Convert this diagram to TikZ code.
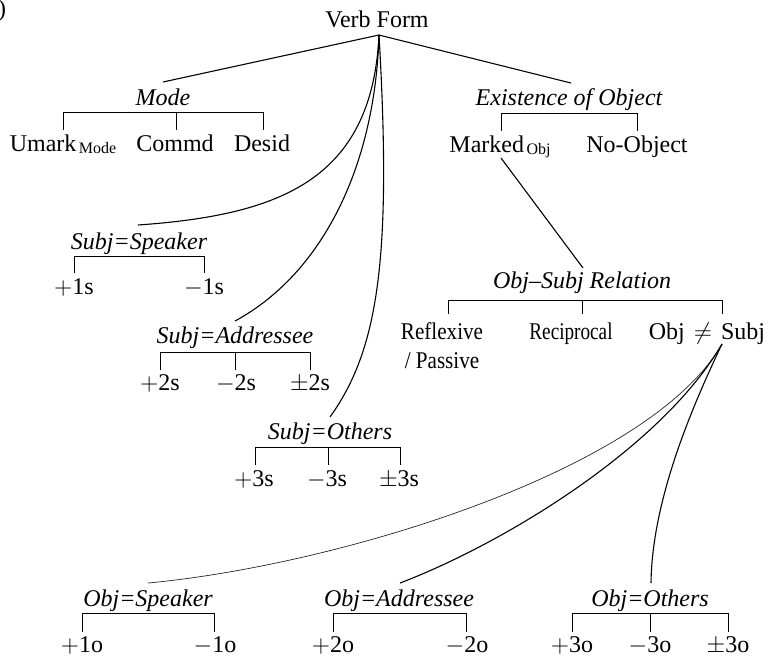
\documentclass[tikz,border=0pt]{standalone}
\usepackage{fontspec}
\setmainfont{Liberation Serif}
\newcommand\lblsize{\fontsize{12}{14.5}\selectfont}
\newcommand\subsz[1]{\hspace{1.2pt}\raisebox{-1pt}{\fontsize{8}{8}\selectfont #1}}
\begin{document}
\begin{tikzpicture}[x=0.5pt,y=-0.5pt,
  lbl/.style={inner sep=0pt, anchor=base, font=\lblsize},
  cat/.style={lbl, font=\lblsize\itshape},
  br/.style={line width=0.5pt},
  edge/.style={line width=0.55pt},
  faint/.style={line width=0.35pt, black!85}]
\useasboundingbox (0,0) rectangle (774,660);

% figure label fragment
\node[lbl, anchor=base east] (fig) at (6.5,16) {)};

% root
\node[lbl] (verb) at (377,27) {Verb Form};
\coordinate (verb-a) at (379,35);

% ---------- Mode ----------
\node[cat] (mode) at (163,105) {Mode};
\coordinate (mode-t) at (163,82);
\coordinate (mode-l) at (63,112);
\coordinate (mode-m) at (176,112);
\coordinate (mode-r) at (263,112);
\node[lbl] (umark) at (63,151) {Umark\subsz{Mode}};
\node[lbl] (commd) at (175,151) {Commd};
\node[lbl] (desid) at (262,151) {Desid};
\coordinate (umark-t) at (63,130);
\coordinate (commd-t) at (176,130);
\coordinate (desid-t) at (263,130);
\draw[edge] (verb-a) -- (mode-t);
\draw[br] (umark-t) -- (mode-l) -- (mode-r) -- (desid-t);
\draw[br] (mode-m) -- (commd-t);

% ---------- Existence of Object ----------
\node[cat] (exist) at (569,105) {Existence of Object};
\coordinate (exist-t) at (571,83);
\coordinate (exist-l) at (501,113);
\coordinate (exist-r) at (637,113);
\node[lbl] (marked) at (500,152) {Marked\subsz{Obj}};
\node[lbl] (noobj) at (637,152) {No-Object};
\coordinate (marked-t) at (501,131);
\coordinate (noobj-t) at (637,131);
\coordinate (marked-b) at (501,158);
\draw[edge] (verb-a) -- (exist-t);
\draw[br] (marked-t) -- (exist-l) -- (exist-r) -- (noobj-t);

% ---------- Subj=Speaker ----------
\node[cat] (sspk) at (139,249) {Subj=Speaker};
\coordinate (sspk-t) at (138,225);
\coordinate (sspk-l) at (74,256);
\coordinate (sspk-r) at (204,256);
\node[lbl] (p1s) at (74,294) {$+$1s};
\node[lbl] (m1s) at (204,294) {$-$1s};
\coordinate (p1s-t) at (74,273);
\coordinate (m1s-t) at (204,273);
\draw[edge] (verb-a) .. controls (372,180) and (280,215) .. (sspk-t);
\draw[br] (p1s-t) -- (sspk-l) -- (sspk-r) -- (m1s-t);

% ---------- Subj=Addressee ----------
\node[cat] (sadr) at (235,343) {Subj=Addressee};
\coordinate (sadr-t) at (235,321);
\coordinate (sadr-l) at (160,352);
\coordinate (sadr-m) at (235,352);
\coordinate (sadr-r) at (310,352);
\node[lbl] (p2s) at (160,390) {$+$2s};
\node[lbl] (m2s) at (236,390) {$-$2s};
\node[lbl] (pm2s) at (310,390) {$\pm$2s};
\coordinate (p2s-t) at (160,370);
\coordinate (m2s-t) at (235,370);
\coordinate (pm2s-t) at (310,370);
\draw[edge] (verb-a) .. controls (375,170) and (320,275) .. (sadr-t);
\draw[br] (p2s-t) -- (sadr-l) -- (sadr-r) -- (pm2s-t);
\draw[br] (sadr-m) -- (m2s-t);

% ---------- Subj=Others ----------
\node[cat] (soth) at (330,439) {Subj=Others};
\coordinate (soth-t) at (330,417);
\coordinate (soth-l) at (255,447);
\coordinate (soth-m) at (328,447);
\coordinate (soth-r) at (400,447);
\node[lbl] (p3s) at (254,486) {$+$3s};
\node[lbl] (m3s) at (327,486) {$-$3s};
\node[lbl] (pm3s) at (399,486) {$\pm$3s};
\coordinate (p3s-t) at (255,465);
\coordinate (m3s-t) at (328,465);
\coordinate (pm3s-t) at (400,465);
\draw[edge] (verb-a) .. controls (392,260) and (378,350) .. (soth-t);
\draw[br] (p3s-t) -- (soth-l) -- (soth-r) -- (pm3s-t);
\draw[br] (soth-m) -- (m3s-t);

% ---------- Obj-Subj Relation ----------
\node[cat] (rel) at (582,288) {Obj--Subj Relation};
\coordinate (rel-t) at (583,268);
\coordinate (rel-l) at (448,300);
\coordinate (rel-m) at (582,300);
\coordinate (rel-r) at (722,300);
\node[lbl, align=center] (refl) at (442,368) {\scalebox{0.88}[1]{Reflexive}\\\scalebox{0.88}[1]{/ Passive}};
\node[lbl] (recip) at (571,339) {\scalebox{0.8}[1]{Reciprocal}};
\node[lbl] (neq) at (707,339) {Obj\hspace{1.5pt} $\neq$\hspace{1.5pt} Subj};
\coordinate (refl-t) at (448,314);
\coordinate (recip-t) at (582,314);
\coordinate (neq-t) at (722,314);
\coordinate (neq-a) at (722,344);
\draw[edge] (marked-b) -- (rel-t);
\draw[br] (refl-t) -- (rel-l) -- (rel-r) -- (neq-t);
\draw[br] (rel-m) -- (recip-t);

% ---------- Obj=Speaker ----------
\node[cat] (ospk) at (148,606) {Obj=Speaker};
\coordinate (ospk-t) at (148,583);
\coordinate (ospk-l) at (82,613);
\coordinate (ospk-r) at (214,613);
\node[lbl] (p1o) at (82,652) {$+$1o};
\node[lbl] (m1o) at (215,652) {$-$1o};
\coordinate (p1o-t) at (82,632);
\coordinate (m1o-t) at (214,632);
\draw[faint] (neq-a) .. controls (650,470) and (340,565) .. (ospk-t);
\draw[br] (p1o-t) -- (ospk-l) -- (ospk-r) -- (m1o-t);

% ---------- Obj=Addressee ----------
\node[cat] (oadr) at (399,606) {Obj=Addressee};
\coordinate (oadr-t) at (400,583);
\coordinate (oadr-l) at (333,613);
\coordinate (oadr-r) at (466,613);
\node[lbl] (p2o) at (333,652) {$+$2o};
\node[lbl] (m2o) at (467,652) {$-$2o};
\coordinate (p2o-t) at (333,632);
\coordinate (m2o-t) at (466,632);
\draw[edge] (neq-a) .. controls (660,450) and (500,545) .. (oadr-t);
\draw[br] (p2o-t) -- (oadr-l) -- (oadr-r) -- (m2o-t);

% ---------- Obj=Others ----------
\node[cat] (ooth) at (650,606) {Obj=Others};
\coordinate (ooth-t) at (651,583);
\coordinate (ooth-l) at (572,613);
\coordinate (ooth-m) at (650,613);
\coordinate (ooth-r) at (728,613);
\node[lbl] (p3o) at (572,652) {$+$3o};
\node[lbl] (m3o) at (650,652) {$-$3o};
\node[lbl] (pm3o) at (728,652) {$\pm$3o};
\coordinate (p3o-t) at (572,632);
\coordinate (m3o-t) at (650,632);
\coordinate (pm3o-t) at (728,632);
\draw[edge] (neq-a) .. controls (692,407) and (652,500) .. (ooth-t);
\draw[br] (p3o-t) -- (ooth-l) -- (ooth-r) -- (pm3o-t);
\draw[br] (ooth-m) -- (m3o-t);
\end{tikzpicture}
\end{document}
